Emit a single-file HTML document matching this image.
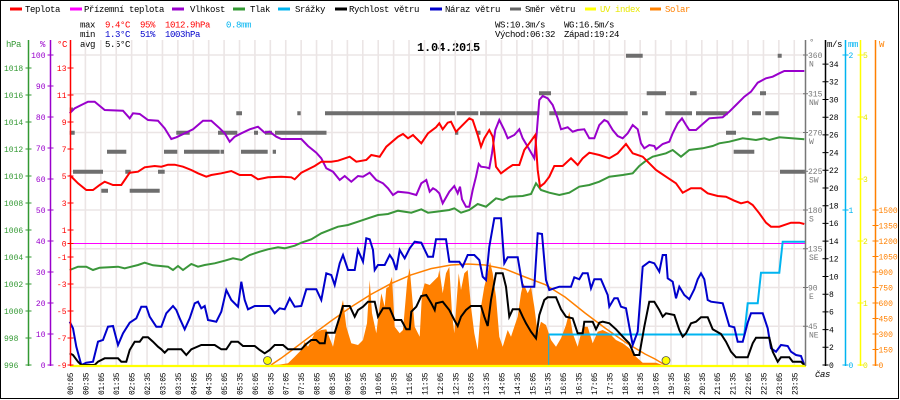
<!DOCTYPE html>
<html><head><meta charset="utf-8"><style>
html,body{margin:0;padding:0;background:#fff;}
svg{display:block;}
text{font-family:"Liberation Mono",monospace;}
.t9{font-size:9px;letter-spacing:-0.4px;}
.t8{font-size:8px;}
</style></head><body>
<svg width="900" height="400" viewBox="0 0 900 400" xmlns="http://www.w3.org/2000/svg">
<rect x="0" y="0" width="900" height="400" fill="#fff"/>
<rect x="0.5" y="0.5" width="898" height="398" fill="none" stroke="#000" stroke-width="1"/>

<!-- legend -->
<g stroke-width="3">
<line x1="10" y1="9" x2="22" y2="9" stroke="#ff0000"/>
<line x1="70" y1="9" x2="82" y2="9" stroke="#ff00ff"/>
<line x1="172" y1="9" x2="184" y2="9" stroke="#9900cc"/>
<line x1="233" y1="9" x2="245" y2="9" stroke="#339933"/>
<line x1="278" y1="9" x2="290" y2="9" stroke="#00b4f0"/>
<line x1="335" y1="9" x2="347" y2="9" stroke="#000"/>
<line x1="430" y1="9" x2="442" y2="9" stroke="#0000cc"/>
<line x1="510" y1="9" x2="521" y2="9" stroke="#666"/>
<line x1="585" y1="9" x2="596" y2="9" stroke="#ffff00"/>
<line x1="650" y1="9" x2="661" y2="9" stroke="#ff8000"/>
</g>
<g class="t9">
<text x="25" y="12">Teplota</text>
<text x="84" y="12">Přízemní teplota</text>
<text x="190" y="12">Vlhkost</text>
<text x="250" y="12">Tlak</text>
<text x="295" y="12">Srážky</text>
<text x="349" y="12">Rychlost větru</text>
<text x="445" y="12">Náraz větru</text>
<text x="525" y="12">Směr větru</text>
<text x="600" y="12" fill="#e8e800">UV index</text>
<text x="665" y="12" fill="#ff8000">Solar</text>
</g>

<!-- stats -->
<g class="t9">
<text x="80" y="27.5">max</text>
<text x="105" y="27.5" fill="#ff0000">9.4°C</text>
<text x="140" y="27.5" fill="#ff0000">95%</text>
<text x="165" y="27.5" fill="#ff0000">1012.9hPa</text>
<text x="226" y="27.5" fill="#00b4f0">0.8mm</text>
<text x="80" y="37">min</text>
<text x="105" y="37" fill="#0000cc">1.3°C</text>
<text x="140" y="37" fill="#0000cc">51%</text>
<text x="165" y="37" fill="#0000cc">1003hPa</text>
<text x="80" y="47">avg</text>
<text x="105" y="47">5.5°C</text>
<text x="495" y="27.5">WS:10.3m/s</text>
<text x="564" y="27.5">WG:16.5m/s</text>
<text x="495" y="37">Východ:06:32</text>
<text x="564" y="37">Západ:19:24</text>
</g>
<text x="417" y="51" style="font-size:12px;font-weight:bold;letter-spacing:-0.2px">1.04.2015</text>

<!-- grid -->
<g stroke="#ebe5e5" stroke-width="1.6" fill="none">
<path d="M85.41 40V365M100.82 40V365M116.23 40V365M131.64 40V365M147.05 40V365M162.46 40V365M177.87 40V365M193.28 40V365M208.69 40V365M224.1 40V365M239.51 40V365M254.92 40V365M270.33 40V365M285.74 40V365M301.15 40V365M316.56 40V365M331.97 40V365M347.38 40V365M362.79 40V365M378.2 40V365M393.61 40V365M409.02 40V365M424.43 40V365M439.84 40V365M455.25 40V365M470.66 40V365M486.07 40V365M501.48 40V365M516.89 40V365M532.3 40V365M547.71 40V365M563.12 40V365M578.53 40V365M593.94 40V365M609.35 40V365M624.76 40V365M640.17 40V365M655.58 40V365M670.99 40V365M686.4 40V365M701.81 40V365M717.22 40V365M732.63 40V365M748.04 40V365M763.45 40V365M778.86 40V365M794.27 40V365"/>
<path d="M70 55H805M70 93.75H805M70 132.5H805M70 171.25H805M70 210H805M70 248.75H805M70 287.5H805M70 326.25H805"/>
</g>

<!-- solar fill -->
<polygon fill="#ff8000" points="271,365 280,364.5 288,363.3 294.7,356.7 301.3,350 304.7,341.7 308,346.7 314.7,333.3 321.3,330 326.3,329.3 329.7,338.3 333,346.7 336.3,330 339.7,313.3 343,300 346.3,326.7 351.3,343.3 358,345 363,340 367,323.3 369.7,280 372,313.3 376.3,333.3 381.3,293.3 384.7,306.7 386.3,288.3 388.7,286.7 392,276.7 394.7,326.7 399.7,333.3 403,330 407.3,280 409.7,268.3 413,306.7 414.7,326.7 419.7,336.7 422,293.3 424.7,283.3 429.7,285 434.7,280 438,276.7 439.3,270 442.7,293.3 446,273.3 449.3,266.7 452,313.3 454.3,333.3 456.7,300 458.7,273.3 461,290 464.3,273.3 467.7,270 471,306.7 474.3,333.3 477.7,350 481,306.7 484.3,286.7 487.7,273.3 490,261.7 492.7,273.3 496,296.7 499.3,336.7 502.7,346.7 507.7,330 511,336.7 514.3,326.7 517.7,316.7 521,293.3 523.3,283.3 527.7,293.3 531,286.7 534.3,306.7 537.7,333.3 541,321.7 546,325 551,340 556,346.7 561,338.3 566,325 569.3,311.7 572.7,333.3 577.7,346.7 582.7,326.7 587.7,326.7 592.7,343.3 597.7,331.7 602.7,330 609.3,333.3 616,340 622.7,343.3 629.3,348.3 636,356.7 642.7,362.7 656,362.7 662.7,365"/>
<!-- solar theoretical -->
<polyline fill="none" stroke="#ff8000" stroke-width="1.5" points="271,365 281,358.3 291,350.9 311,335.8 331,321 351,307 371,294.4 391,283.6 411,274.9 431,268.6 451,265 468,264 485,265 505,269 525,277 545,284.5 565,297 585,313 605,328 625,342 645,354 655,359 665,365"/>

<!-- zero line (ground temp) -->
<line x1="70" y1="243.5" x2="805" y2="243.5" stroke="#ff00ff" stroke-width="1"/>

<!-- wind direction bars -->
<path fill="none" stroke="#6e6e6e" stroke-width="4" d="M69.7 109.5H73M69.7 132.7H74.7M73 171.7H103M101.3 190.7H108M107 151.7H126.3M125.3 171.7H130.7M129.7 190.7H159.7M158 171.7H164.7M164 151.7H177.3M176.3 132.7H189.7M184 151.7H219.7M220.5 151.7H224M218 132.7H237.3M236.3 113.3H242M241 151.7H267.7M254 132.7H258M265 132.7H272M272.7 151.7H276M275 132.7H326.5M297.3 113.3H300.7M325 113.3H455M455 132.7H458.3M456.7 113.3H478.3M476.7 132.7H480.5M480 113.3H539.3M539 93.3H551M549.3 113.3H627.7M626 55.7H642.7M642 113.3H647.7M646.7 93.3H666M665.3 113.3H692M690 93.3H696.7M696 113.3H727.7M726 132.7H736M733.7 151.7H754.3M752 113.3H761M760 93.3H766M765.3 113.3H778.7M777.7 55.7H781.7M780 171.7H806"/>

<!-- pressure -->
<polyline fill="none" stroke="#3a963a" stroke-width="2" points="69.7,270 78,266.7 86.3,266.7 93,270 99.7,267.7 118,266.7 124.7,268.3 138,265 144.7,262.7 153,265.3 168,266.7 173,270 178,266 183,270 191.3,264 198,266.7 204.7,265 214.7,263.3 224.7,260.7 233,258.3 241.3,260 249.7,255 259.7,251.7 268,249.3 278,247.3 284.7,248.3 294.7,245.7 301.3,242.7 311.3,239.3 321.3,233.3 331.3,229.3 338,226.7 348,225 358,221.7 368,218.3 378,215 388,214 398,210.7 411.3,212.7 421.3,209.3 428,212.7 436,211.7 449.3,210 454.3,208.3 461,212.7 469.3,210 477.7,204 486,206.7 496,198.3 502.7,200 509.3,196.7 522.7,196 531,194 536,183.3 541,190 549.3,192.7 559.3,195 569.3,192.7 579.3,186.7 589.3,185 599.3,181.7 609.3,176.7 622.7,175 632.7,173.3 639.3,166 646,160.7 652.7,156.7 666,153.3 672.7,150 681,156.7 689.3,150 702.7,148.3 712.7,146 719.3,143.3 729.3,141.7 742.7,138.3 756,140 764.3,138.3 769.3,140 779.3,137.3 804.3,139.3"/>

<!-- humidity -->
<polyline fill="none" stroke="#9900cc" stroke-width="2" points="69.7,113.3 74.7,108.3 81.3,105 88,101.7 94.7,101.7 104.7,110 123,110.7 129.7,118.3 133,113.3 139.7,114 148,120 158,120.7 164.7,128.3 171.3,139 176.3,137.3 184.7,133.3 193,129.3 203,120.7 211.3,120.7 219.7,128.3 224.7,133.3 229.7,141.7 234.7,136.7 241.3,133.3 249.7,129.3 258,126.7 264.7,132.7 269.7,131.7 276.3,136.7 281.3,139 301.3,139 308,146 316.3,152.7 321.3,158.3 326.3,168.3 333,171.7 339.7,180 344.7,176 351.3,181.7 358,176 363,176.7 369.7,172.7 376.3,180 383,183.3 388,188.3 393,195 398,191.7 408,192.7 416.3,195 421.3,183.3 426.3,180 429.7,191.7 433,188.3 436,190 439.3,193.3 442.7,203.3 449.3,191.7 454.3,186 457.7,193.3 460,186.7 462,199.3 466,206.7 469.3,206.7 472.7,190 476,176.7 478.7,164 481,166.7 486,167.3 489.3,168.3 492,153.3 495.3,130 499.3,120 504.3,130 507.7,138.3 514.3,135 519.3,129.3 522.7,138.3 527.7,146.7 534.3,158.3 536.7,133.3 539.3,100 542.7,96 547.7,98.3 552.7,105 557.7,118.3 561,129.3 567.7,127.3 572.7,131.7 577.7,130 584.3,129.3 589.3,138.3 594.3,138.3 599.3,125 604.3,120 607.7,121.7 612.7,130 617.7,136 622.7,138.3 627.7,133.3 632.7,125 637.7,129.3 641,143.3 644.3,148.3 649.3,145 654.3,146 656,149.3 662.7,144 669.3,141.7 672.7,133.3 677.7,123.3 682,118.3 686,125 689.3,130 696,130 702.7,124 709.3,118.3 722.7,117.3 729.3,111.7 736,105 744.3,96.7 751,91.7 757.7,82.7 766,78.3 772.7,76.7 779.3,73.3 784.3,71 804.3,71"/>

<!-- temperature -->
<polyline fill="none" stroke="#ff0000" stroke-width="2" points="69.7,175 78,183.3 86.3,190 93,190 99.7,185 104.7,181.7 113,185 121.3,185 129.7,172.7 138,171.7 144.7,167.3 154.7,166 161.3,166.7 168,164.7 174.7,164.7 183,166.7 191.3,170 198,173.3 206.3,176.7 211.3,175 221.3,173.3 231.3,171 239.7,175 251.3,175 258,179.3 268,177.3 281.3,176.7 291.3,177.3 294.7,179.3 301.3,172.7 314.7,166 321.3,161.7 331.3,161.7 338,160.7 349.7,156.7 356.3,161.7 366.3,160 371.3,155 379.7,156.7 386.3,146.7 398,136.7 403,134 408,138.3 413,135 421.3,143.3 428,133.3 436,127.3 439.3,123.3 442.7,129.3 447.7,122.7 451,121.7 456,131.7 461,126.7 469.3,118.3 472.7,120 477.7,135 481,146.7 484.3,138.3 489.3,130 492.7,136.7 496,166.7 501,173.3 507.7,168.3 512.7,165 519.3,165 524.3,150 529.3,143.3 535.3,135 537.7,170 540,186.7 544.3,183.3 549.3,176.7 554.3,166 562.7,166 571,158.3 577.7,165 582.7,158.3 589.3,152.7 599.3,155 609.3,158.3 617.7,153.3 626,144 632.7,153.3 642.7,156.7 647.7,161.7 656,170 666,176.7 676,183.3 682.7,192.7 691,188.3 701,188.3 707.7,193.3 717.7,196 726,196.7 734.3,200.7 741,203.3 747.7,201.7 752.7,205 759.3,213.3 766,222.7 771,226.7 779.3,226.7 791,222.7 799.3,222.7 804.3,224"/>

<!-- rain -->
<line x1="548.7" y1="365" x2="548.7" y2="334.5" stroke="#00b4f0" stroke-width="1"/>
<polyline fill="none" stroke="#00b4f0" stroke-width="2" points="548.7,334.5 744.3,334.5 747.7,303.3 757.7,303.3 761,272.7 779.3,272.7 782.7,241.7 805,241.7"/>

<!-- gust -->
<polyline fill="none" stroke="#0000cc" stroke-width="2" points="69.7,321.7 73,328.3 76.3,346.7 81.3,365 86.3,362.7 93,361.7 98,341.7 103,340 108,326.7 113,326 118,345 123,333.3 129.7,322.7 136.3,318.3 141.3,306.7 146.3,306.7 149.7,316.7 156.3,326.7 161.3,326.7 166.3,313.3 173,306 176.3,310 179.7,318.3 184.7,329.3 189.7,318.3 194.7,303.3 198,301.7 201.3,308.3 204.7,306 208,320 216.3,321.7 221.3,311.7 226.3,290 231.3,300 238,306.7 241.3,281.7 244.7,300 248,309.3 254.7,306 269.7,306 274.7,313.3 279.7,308.3 284.7,309.3 289.7,298.3 294.7,306.7 301.3,306 306.3,289.3 316.3,289.3 321.3,300 326.3,273.3 331.3,275 334.7,285 339.7,263.3 343,255 348,270 354.7,270 358,250 363,261.7 366.3,238.3 369.7,239.3 373,250 374.7,270 378,265 384.7,265 389.7,255 393,260 396.3,270 399.7,250 404.7,258.3 409.7,248.3 414.7,241.7 421.3,242.7 428,256.7 433,256.7 436,239.3 446,239.3 449.3,261.7 459.3,261.7 462.7,266.7 467.7,255 474.3,255 479.3,260 482.7,276.7 486,280 489.3,246.7 494.3,218.3 501,218.3 504.3,263.3 507.7,257.3 517.7,257.3 522.7,286.7 534.3,286.7 537.7,233.3 542,234 546,280 549.3,290 559.3,286.7 571,286.7 574.3,277.3 579.3,279.3 582.7,273.3 587.7,273.3 591,288.3 594.3,279.3 601,279.3 607.7,295 609.3,306.7 614.3,298.3 617.7,298.3 621,306.7 626,308.3 629.3,326.7 632.7,345 637.7,331.7 642.7,266.7 649.3,261.7 654.3,263.3 659.3,271.7 662.7,255 666,255 667.7,278.3 672.7,281.7 676,298.3 679.3,286.7 684.3,295 689.3,299.3 694.3,289.3 697.7,279.3 701,273.3 704.3,279.3 707.7,300 711,301.7 722.7,303.3 729.3,326 734.3,327.3 737.7,341.7 742.7,341.7 747.7,322.7 751,313.3 762.7,313.3 767.7,328.3 771,348.3 776,351.7 781,345 787.7,346 791,351.7 796,355 801,356 804.3,365"/>

<!-- wind speed -->
<polyline fill="none" stroke="#000" stroke-width="2" points="69.7,353.3 73,355 78,361.7 81.3,365 94.7,365 98,361.7 104.7,358.3 118,358.3 121.3,361.7 126.3,361.7 129.7,350 134.7,341.7 139.7,341.7 143,337.3 148,337.3 153,341.7 158,346.7 161.3,349.3 164.7,352.7 168,349.3 181.3,349.3 186.3,355 191.3,349.3 201.3,345 214.7,345 221.3,349.3 226.3,349.3 231.3,341.7 238,341.7 243,346 254.7,346 259.7,350 264.7,353.3 269.7,350 274.7,345 283,345 288,349.3 301.3,349.3 306.3,344 311.3,340 316.3,340 319.7,343.3 324.7,343.3 326.3,332.7 334.7,332.7 339.7,316.7 343,306 349.7,306 354.7,316.7 358,310 363,306.7 368,301.7 374.7,301.7 378,316.7 383,308.3 389.7,308.3 394.7,320 401.3,320 406.3,329.3 409.7,329.3 411.3,311.7 416.3,306.7 421.3,296 426.3,295 431.3,303.3 434.7,310 436,303.3 442.7,301.7 449.3,310 454.3,320 457.7,326 461,316.7 466,310 471,306 481,306 484.3,316.7 487.7,326 491,300 496,273.3 502.7,273.3 506,286.7 509.3,316.7 512.7,309.3 519.3,309.3 522.7,316.7 526,323.3 531,331.7 536,338.3 539.3,315 544.3,300 547.7,297.3 556,297.3 561,309.3 566,316.7 572.7,318.3 577.7,333.3 582.7,333.3 584.3,321.7 592.7,321.7 596,329.3 599.3,322.7 602.7,321.7 609.3,323.3 616,329.3 624.3,338.3 629.3,343.3 634.3,355 639.3,355 644.3,326.7 649.3,301.7 654.3,301.7 659.3,310 662.7,316.7 666,313.3 674.3,315 679.3,330 682.7,336.7 686,333.3 691,323.3 696,321.7 701,317.3 707.7,317.3 712.7,329.3 721,334 726,341.7 731,351.7 736,357.3 747.7,357.3 752.7,343.3 756,337.7 769.3,337.7 772.7,351.7 777.7,361.7 781,357.3 789.3,357.3 792.7,361.7 801,361.7 804.3,365"/>

<!-- UV baseline -->
<line x1="70" y1="366" x2="806" y2="366" stroke="#ffff00" stroke-width="2.2"/>
<!-- sun dots -->
<circle cx="267.5" cy="360.5" r="4" fill="#ffff00" stroke="#555" stroke-width="0.8"/>
<circle cx="666" cy="360.5" r="4" fill="#ffff00" stroke="#555" stroke-width="0.8"/>

<!-- left axes -->
<g stroke-width="1.5">
<line x1="28.5" y1="40" x2="28.5" y2="366" stroke="#339933"/>
<line x1="50.5" y1="40" x2="50.5" y2="366" stroke="#9900cc"/>
<line x1="70.5" y1="40" x2="70.5" y2="366" stroke="#ff0000"/>
</g>
<path stroke="#339933" stroke-width="1" d="M25.5 68H31.5M25.5 95H31.5M25.5 122H31.5M25.5 149H31.5M25.5 176H31.5M25.5 203H31.5M25.5 230H31.5M25.5 257H31.5M25.5 284H31.5M25.5 311H31.5M25.5 338H31.5M25.5 365H31.5"/>
<path stroke="#9900cc" stroke-width="1" d="M47.5 55H53.5M47.5 86H53.5M47.5 117H53.5M47.5 148H53.5M47.5 179H53.5M47.5 210H53.5M47.5 241H53.5M47.5 272H53.5M47.5 303H53.5M47.5 334H53.5M47.5 365H53.5"/>
<path stroke="#ff0000" stroke-width="1" d="M67.5 68H73.5M67.5 95H73.5M67.5 122H73.5M67.5 149H73.5M67.5 176H73.5M67.5 203H73.5M67.5 230H73.5M67.5 243.5H73.5M67.5 257H73.5M67.5 284H73.5M67.5 311H73.5M67.5 338H73.5M67.5 365H73.5"/>

<g class="t9">
<text x="6" y="47" fill="#339933">hPa</text>
<text x="40" y="47" fill="#9900cc">%</text>
<text x="57" y="47" fill="#ff0000">°C</text>
</g>
<g class="t8" fill="#339933">
<text x="4" y="70.8">1018</text><text x="4" y="97.8">1016</text><text x="4" y="124.8">1014</text><text x="4" y="151.8">1012</text><text x="4" y="178.8">1010</text><text x="4" y="205.8">1008</text><text x="4" y="232.8">1006</text><text x="4" y="259.8">1004</text><text x="4" y="286.8">1002</text><text x="4" y="313.8">1000</text><text x="4" y="340.8">998</text><text x="4" y="367.8">996</text>
</g>
<g class="t8" fill="#9900cc" text-anchor="end">
<text x="45.5" y="57.8">100</text><text x="45.5" y="88.8">90</text><text x="45.5" y="119.8">80</text><text x="45.5" y="150.8">70</text><text x="45.5" y="181.8">60</text><text x="45.5" y="212.8">50</text><text x="45.5" y="243.8">40</text><text x="45.5" y="274.8">30</text><text x="45.5" y="305.8">20</text><text x="45.5" y="336.8">10</text><text x="45.5" y="367.8">0</text>
</g>
<g class="t8" fill="#ff0000" text-anchor="end">
<text x="66.5" y="70.8">13</text><text x="66.5" y="97.8">11</text><text x="66.5" y="124.8">9</text><text x="66.5" y="151.8">7</text><text x="66.5" y="178.8">5</text><text x="66.5" y="205.8">3</text><text x="66.5" y="232.8">1</text><text x="66.5" y="246.3">0</text><text x="66.5" y="259.8">-1</text><text x="66.5" y="286.8">-3</text><text x="66.5" y="313.8">-5</text><text x="66.5" y="340.8">-7</text><text x="66.5" y="367.8">-9</text>
</g>

<!-- right axes -->
<g stroke-width="1.5">
<line x1="805.5" y1="40" x2="805.5" y2="366" stroke="#777"/>
<line x1="825.5" y1="40" x2="825.5" y2="366" stroke="#000"/>
<line x1="845.5" y1="40" x2="845.5" y2="366" stroke="#00b4f0"/>
<line x1="860.5" y1="40" x2="860.5" y2="366" stroke="#ffff00"/>
<line x1="875.5" y1="40" x2="875.5" y2="366" stroke="#ff8000"/>
</g>
<path stroke="#777" stroke-width="1" d="M803 55H808M803 93.75H808M803 132.5H808M803 171.25H808M803 210H808M803 248.75H808M803 287.5H808M803 326.25H808"/>
<path stroke="#000" stroke-width="1" d="M822.5 365H828.5M822.5 347.3H828.5M822.5 329.6H828.5M822.5 311.9H828.5M822.5 294.2H828.5M822.5 276.5H828.5M822.5 258.8H828.5M822.5 241.1H828.5M822.5 223.4H828.5M822.5 205.7H828.5M822.5 188H828.5M822.5 170.3H828.5M822.5 152.6H828.5M822.5 134.9H828.5M822.5 117.2H828.5M822.5 99.5H828.5M822.5 81.8H828.5M822.5 64.1H828.5"/>
<path stroke="#00b4f0" stroke-width="1" d="M842.5 55H848.5M842.5 210H848.5M842.5 365H848.5"/>
<path stroke="#ffff00" stroke-width="1" d="M857.5 55H863.5M857.5 117H863.5M857.5 179H863.5M857.5 241H863.5M857.5 303H863.5M857.5 365H863.5"/>
<path stroke="#ff8000" stroke-width="1" d="M872.5 210H878.5M872.5 225.5H878.5M872.5 241H878.5M872.5 256.5H878.5M872.5 272H878.5M872.5 287.5H878.5M872.5 303H878.5M872.5 318.5H878.5M872.5 334H878.5M872.5 349.5H878.5M872.5 365H878.5"/>

<g class="t9">
<text x="809" y="45" fill="#777">°</text>
<text x="827" y="47">m/s</text>
<text x="848" y="47" fill="#00b4f0">mm</text>
<text x="879" y="47" fill="#ff8000">W</text>
</g>
<g class="t8" fill="#777">
<text x="808" y="57.8">360</text><text x="809" y="66.5">N</text>
<text x="808" y="96.5">315</text><text x="809" y="105">NW</text>
<text x="808" y="135.3">270</text><text x="809" y="144">W</text>
<text x="808" y="174">225</text><text x="809" y="182.7">SW</text>
<text x="808" y="212.8">180</text><text x="809" y="221.5">S</text>
<text x="808" y="251.5">135</text><text x="809" y="260.2">SE</text>
<text x="808" y="290.3">90</text><text x="809" y="299">E</text>
<text x="808" y="329">45</text><text x="809" y="337.7">NE</text>
</g>
<g class="t8">
<text x="829" y="367.8">0</text><text x="829" y="350.1">2</text><text x="829" y="332.4">4</text><text x="829" y="314.7">6</text><text x="829" y="297">8</text><text x="829" y="279.3">10</text><text x="829" y="261.6">12</text><text x="829" y="243.9">14</text><text x="829" y="226.2">16</text><text x="829" y="208.5">18</text><text x="829" y="190.8">20</text><text x="829" y="173.1">22</text><text x="829" y="155.4">24</text><text x="829" y="137.7">26</text><text x="829" y="120">28</text><text x="829" y="102.3">30</text><text x="829" y="84.6">32</text><text x="829" y="66.9">34</text>
</g>
<g class="t8" fill="#00b4f0">
<text x="848.5" y="57.8">2</text><text x="848.5" y="212.8">1</text><text x="848.5" y="367.8">0</text>
</g>
<g class="t8" fill="#e6e600">
<text x="863" y="57.8">5</text><text x="863" y="119.8">4</text><text x="863" y="181.8">3</text><text x="863" y="243.8">2</text><text x="863" y="305.8">1</text><text x="863" y="367.8">0</text>
</g>
<g class="t8" fill="#ff8000">
<text x="878.5" y="212.8">1500</text><text x="878.5" y="228.3">1350</text><text x="878.5" y="243.8">1200</text><text x="878.5" y="259.3">1050</text><text x="878.5" y="274.8">900</text><text x="878.5" y="290.3">750</text><text x="878.5" y="305.8">600</text><text x="878.5" y="321.3">450</text><text x="878.5" y="336.8">300</text><text x="878.5" y="352.3">150</text><text x="878.5" y="367.8">0</text>
</g>
<text x="815" y="377" class="t9" style="font-style:italic">čas</text>

<!-- time labels -->
<g class="t8" style="letter-spacing:-0.4px">
<text transform="translate(73,395) rotate(-90)">00:05</text>
<text transform="translate(88.41,395) rotate(-90)">00:35</text>
<text transform="translate(103.82,395) rotate(-90)">01:05</text>
<text transform="translate(119.23,395) rotate(-90)">01:35</text>
<text transform="translate(134.64,395) rotate(-90)">02:05</text>
<text transform="translate(150.05,395) rotate(-90)">02:35</text>
<text transform="translate(165.46,395) rotate(-90)">03:05</text>
<text transform="translate(180.87,395) rotate(-90)">03:35</text>
<text transform="translate(196.28,395) rotate(-90)">04:05</text>
<text transform="translate(211.69,395) rotate(-90)">04:35</text>
<text transform="translate(227.1,395) rotate(-90)">05:05</text>
<text transform="translate(242.51,395) rotate(-90)">05:35</text>
<text transform="translate(257.92,395) rotate(-90)">06:05</text>
<text transform="translate(273.33,395) rotate(-90)">06:35</text>
<text transform="translate(288.74,395) rotate(-90)">07:05</text>
<text transform="translate(304.15,395) rotate(-90)">07:35</text>
<text transform="translate(319.56,395) rotate(-90)">08:05</text>
<text transform="translate(334.97,395) rotate(-90)">08:35</text>
<text transform="translate(350.38,395) rotate(-90)">09:05</text>
<text transform="translate(365.79,395) rotate(-90)">09:35</text>
<text transform="translate(381.2,395) rotate(-90)">10:05</text>
<text transform="translate(396.61,395) rotate(-90)">10:35</text>
<text transform="translate(412.02,395) rotate(-90)">11:05</text>
<text transform="translate(427.43,395) rotate(-90)">11:35</text>
<text transform="translate(442.84,395) rotate(-90)">12:05</text>
<text transform="translate(458.25,395) rotate(-90)">12:35</text>
<text transform="translate(473.66,395) rotate(-90)">13:05</text>
<text transform="translate(489.07,395) rotate(-90)">13:35</text>
<text transform="translate(504.48,395) rotate(-90)">14:05</text>
<text transform="translate(519.89,395) rotate(-90)">14:35</text>
<text transform="translate(535.3,395) rotate(-90)">15:05</text>
<text transform="translate(550.71,395) rotate(-90)">15:35</text>
<text transform="translate(566.12,395) rotate(-90)">16:05</text>
<text transform="translate(581.53,395) rotate(-90)">16:35</text>
<text transform="translate(596.94,395) rotate(-90)">17:05</text>
<text transform="translate(612.35,395) rotate(-90)">17:35</text>
<text transform="translate(627.76,395) rotate(-90)">18:05</text>
<text transform="translate(643.17,395) rotate(-90)">18:35</text>
<text transform="translate(658.58,395) rotate(-90)">19:05</text>
<text transform="translate(673.99,395) rotate(-90)">19:35</text>
<text transform="translate(689.4,395) rotate(-90)">20:05</text>
<text transform="translate(704.81,395) rotate(-90)">20:35</text>
<text transform="translate(720.22,395) rotate(-90)">21:05</text>
<text transform="translate(735.63,395) rotate(-90)">21:35</text>
<text transform="translate(751.04,395) rotate(-90)">22:05</text>
<text transform="translate(766.45,395) rotate(-90)">22:35</text>
<text transform="translate(781.86,395) rotate(-90)">23:05</text>
<text transform="translate(797.27,395) rotate(-90)">23:35</text>
</g>
</svg>
</body></html>
